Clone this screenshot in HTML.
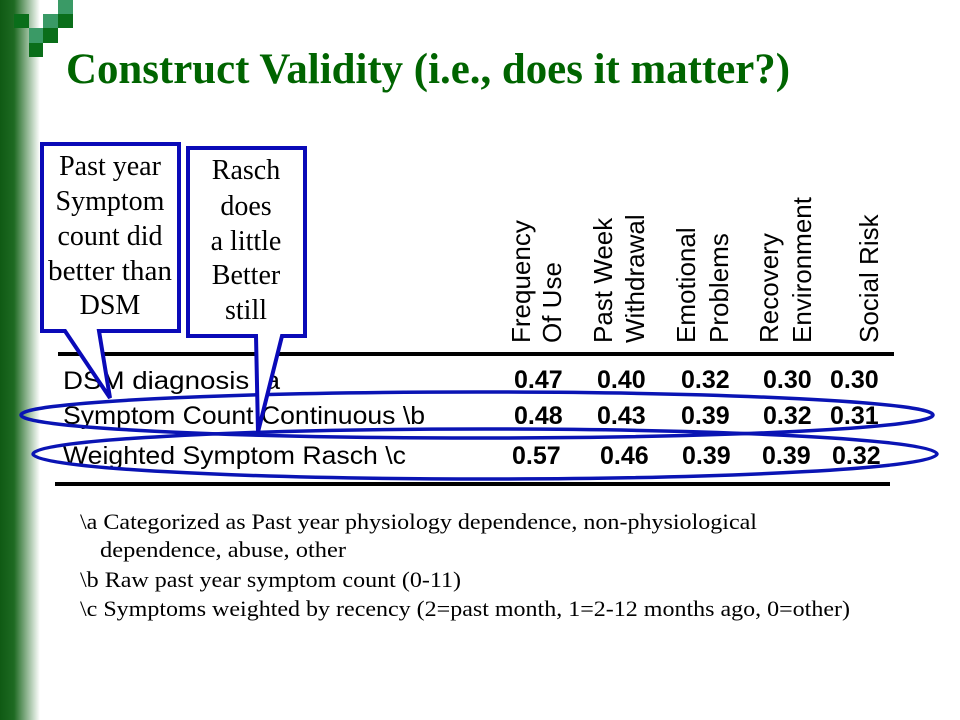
<!DOCTYPE html>
<html><head><meta charset="utf-8"><style>
body{margin:0;background:#fff}
svg{display:block}
.s{font-family:"Liberation Sans",sans-serif}
.r{font-family:"Liberation Serif",serif}
</style></head><body>
<svg width="960" height="720" viewBox="0 0 960 720" xmlns="http://www.w3.org/2000/svg">
<defs><linearGradient id="g" x1="0" x2="1"><stop offset="0" stop-color="#0f5a14"/><stop offset="0.35" stop-color="#1e6a22"/><stop offset="1" stop-color="#fff"/></linearGradient></defs>
<rect x="0" y="0" width="40" height="720" fill="url(#g)"/>
<g>
<rect x="58" y="0" width="15" height="14" fill="#3a9a66"/>
<rect x="14" y="14" width="15" height="14" fill="#0a6e1a"/>
<rect x="43" y="14" width="15" height="14" fill="#3a9a66"/>
<rect x="58" y="14" width="15" height="14" fill="#0a6e1a"/>
<rect x="29" y="28" width="14" height="15" fill="#3a9a66"/>
<rect x="43" y="28" width="15" height="15" fill="#0a6e1a"/>
<rect x="29" y="43" width="14" height="14" fill="#0a6e1a"/>
</g>
<text class="r" x="66" y="83" font-size="43" font-weight="bold" fill="#006400" textLength="724" lengthAdjust="spacingAndGlyphs">Construct Validity (i.e., does it matter?)</text>
<g class="s" font-size="26" fill="#000">
<text transform="translate(530,343) rotate(-90)">Frequency</text>
<text transform="translate(561,343) rotate(-90)">Of Use</text>
<text transform="translate(612,343) rotate(-90)">Past Week</text>
<text transform="translate(644,343) rotate(-90)">Withdrawal</text>
<text transform="translate(695,343) rotate(-90)">Emotional</text>
<text transform="translate(728,343) rotate(-90)">Problems</text>
<text transform="translate(778,343) rotate(-90)">Recovery</text>
<text transform="translate(811,343) rotate(-90)">Environment</text>
<text transform="translate(878,343) rotate(-90)">Social Risk</text>
</g>
<rect x="58" y="352" width="836" height="4" fill="#000"/>
<rect x="55" y="482" width="835" height="4" fill="#000"/>
<g class="s" font-size="25" fill="#000">
<text x="63" y="389" textLength="217" lengthAdjust="spacingAndGlyphs">DSM diagnosis \a</text>
<text x="63" y="424" textLength="362" lengthAdjust="spacingAndGlyphs">Symptom Count Continuous \b</text>
<text x="63" y="464" textLength="343" lengthAdjust="spacingAndGlyphs">Weighted Symptom Rasch \c</text>
</g>
<g class="s" font-size="25" font-weight="bold" fill="#000">
<text x="514" y="388">0.47</text><text x="597" y="388">0.40</text><text x="681" y="388">0.32</text><text x="763" y="388">0.30</text><text x="830" y="388">0.30</text>
<text x="514" y="424">0.48</text><text x="597" y="424">0.43</text><text x="681" y="424">0.39</text><text x="763" y="424">0.32</text><text x="830" y="424">0.31</text>
<text x="512" y="464">0.57</text><text x="600" y="464">0.46</text><text x="682" y="464">0.39</text><text x="762" y="464">0.39</text><text x="832" y="464">0.32</text>
</g>
<g fill="none" stroke="#0a14b4" stroke-width="3.5">
<ellipse cx="477" cy="415" rx="456" ry="23"/>
<ellipse cx="485" cy="454" rx="452" ry="25"/>
</g>
<g stroke="#0a0ab8" stroke-width="4" fill="#fff">
<path d="M42,144 H179 V331 H99 L110,398 L65,331 H42 Z"/>
</g>
<g stroke="#0a0ab8" stroke-width="4" fill="#fff">
<path d="M188,148 H305 V336 H282 L258,432 L256,336 H188 Z"/>
</g>
<g class="r" font-size="28" fill="#000" text-anchor="middle">
<g>
<text x="110" y="175">Past year</text><text x="110" y="210">Symptom</text><text x="110" y="245">count did</text><text x="110" y="280" textLength="124" lengthAdjust="spacingAndGlyphs">better than</text><text x="110" y="314">DSM</text>
</g>
<g>
<text x="246" y="179">Rasch</text><text x="246" y="215">does</text><text x="246" y="250">a little</text><text x="246" y="284">Better</text><text x="246" y="319">still</text>
</g>
</g>
<g class="r" font-size="22" fill="#000">
<text x="80" y="529" textLength="677" lengthAdjust="spacingAndGlyphs">\a Categorized as Past year physiology dependence, non-physiological</text>
<text x="100" y="557" textLength="246" lengthAdjust="spacingAndGlyphs">dependence, abuse, other</text>
<text x="80" y="587" textLength="381" lengthAdjust="spacingAndGlyphs">\b Raw past year symptom count (0-11)</text>
<text x="80" y="616" textLength="770" lengthAdjust="spacingAndGlyphs">\c Symptoms weighted by recency (2=past month, 1=2-12 months ago, 0=other)</text>
</g>
</svg>
</body></html>
